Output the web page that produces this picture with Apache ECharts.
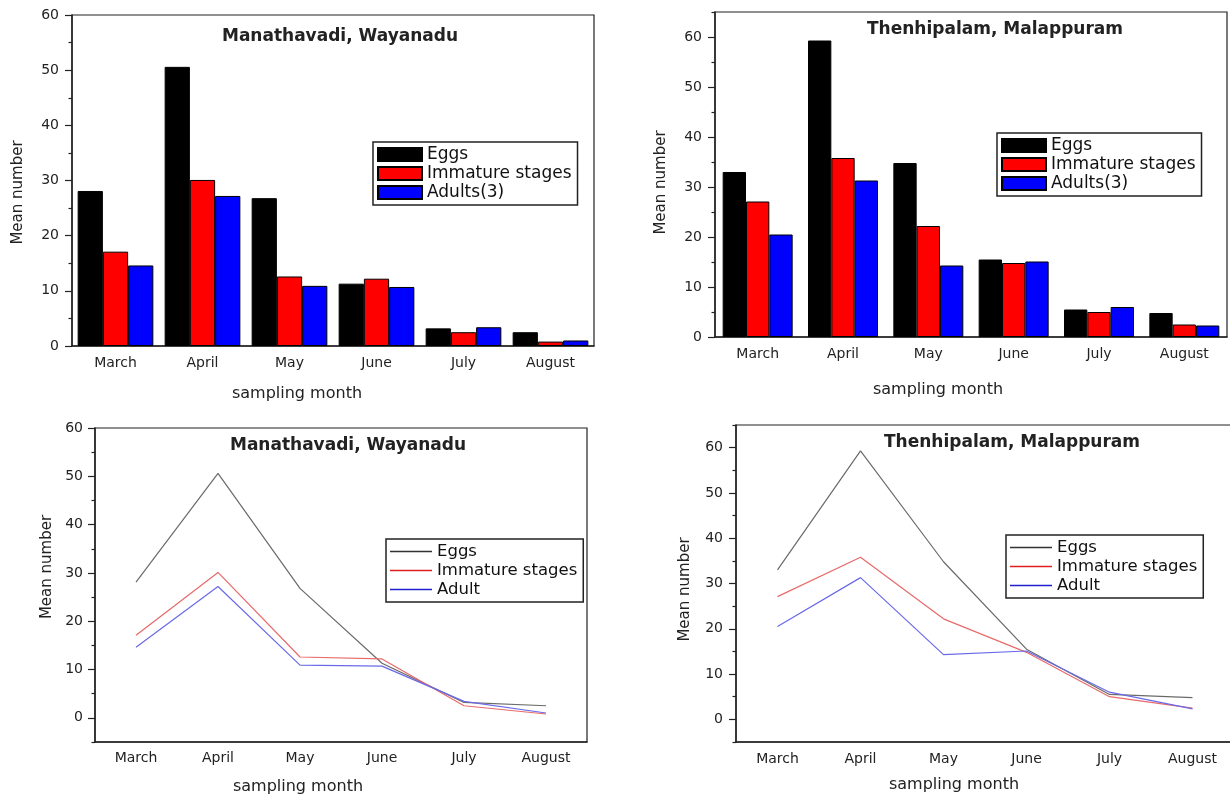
<!DOCTYPE html>
<html>
<head>
<meta charset="utf-8">
<title>Mean number by sampling month</title>
<script src="https://cdn.jsdelivr.net/npm/echarts@6/dist/echarts.min.js"></script>
<style>
  html, body { margin: 0; padding: 0; background: #fff; }
  .panel { position: absolute; overflow: hidden; }
</style>
</head>
<body>
<div id="p1" class="panel" style="left:0;top:0;width:615px;height:412px"></div>
<div id="p2" class="panel" style="left:615px;top:0;width:615px;height:412px"></div>
<div id="p3" class="panel" style="left:0;top:400px;width:615px;height:399px"></div>
<div id="p4" class="panel" style="left:615px;top:400px;width:615px;height:399px"></div>

<script>
const months = ['March', 'April', 'May', 'June', 'July', 'August']

// Manathavadi, Wayanadu
const wayEggs = [28.1, 50.6, 26.8, 11.3, 3.2, 2.5]
const wayImmature = [17.1, 30.1, 12.6, 12.2, 2.5, 0.8]
const wayAdults = [14.6, 27.2, 10.9, 10.7, 3.4, 1.0]

// Thenhipalam, Malappuram
const malEggs = [33.0, 59.3, 34.8, 15.5, 5.5, 4.8]
const malImmature = [27.1, 35.8, 22.2, 14.8, 5.0, 2.5]
const malAdults = [20.5, 31.3, 14.3, 15.1, 6.0, 2.3]

// tick labels
const yTicks = [0, 10, 20, 30, 40, 50, 60]
const yMinorBar = [5, 15, 25, 35, 45, 55, 65]
const yMinorLine = [-5, 5, 15, 25, 35, 45, 55, 65]

const barNames = ['Eggs', 'Immature stages', 'Adults(3)']
const lineNames = ['Eggs', 'Immature stages', 'Adult']

const font = 'DejaVu Sans'
const ink = '#222'
const tickStyle = { color: ink, width: 1.2 }

function buildOption (p) {
  const isBar = p.type === 'bar'
  const colors = isBar ? ['#000000', '#ff0000', '#0000ff'] : ['#6a6a6a', '#e86a6a', '#6a6ae8']
  const legendColors = isBar ? colors : ['#333333', '#e02020', '#2020d0']
  const series = p.data.map((values, i) => {
    if (isBar) {
      return {
        type: 'bar',
        name: p.names[i],
        data: values,
        barGap: '0%',
        barCategoryGap: p.barGap,
        itemStyle: { color: colors[i], borderColor: '#000', borderWidth: 1 }
      }
    }
    return {
      type: 'line',
      name: p.names[i],
      data: values,
      symbol: 'none',
      lineStyle: { width: 1.2, color: colors[i] },
      itemStyle: { color: colors[i] }
    }
  })
  return {
    animation: false,
    title: {
      text: p.title,
      left: p.titlePos[0],
      top: p.titlePos[1],
      textAlign: 'center',
      padding: 0,
      textStyle: { fontFamily: font, fontSize: 17, fontWeight: 'bold', color: ink }
    },
    legend: {
      orient: 'vertical',
      left: p.legendPos[0],
      top: p.legendPos[1],
      data: p.names.map((name, i) => isBar
        ? { name }
        : { name, itemStyle: { color: legendColors[i], borderWidth: 0 } }),
      icon: 'rect',
      itemWidth: isBar ? 44 : 42,
      itemHeight: isBar ? 13 : 1.5,
      itemGap: 2,
      padding: [4, 6, 4, 4],
      borderColor: ink,
      borderWidth: 1.5,
      borderRadius: 0,
      textStyle: { fontFamily: font, fontSize: p.legendFont, color: '#111', lineHeight: 16 }
    },
    grid: {
      left: p.grid[0],
      top: p.grid[1],
      width: p.grid[2],
      height: p.grid[3],
      outerBoundsMode: 'none',
      show: true,
      borderColor: ink,
      borderWidth: 1.2
    },
    xAxis: [
      {
        type: 'category',
        data: months,
        name: 'sampling month',
        nameLocation: 'middle',
        nameGap: p.xName[0],
        nameTextStyle: { fontFamily: font, fontSize: 16, color: ink, padding: [0, p.xName[1], 0, 0] },
        axisLine: { show: true, onZero: false, lineStyle: { color: ink, width: 1.5 } },
        axisTick: { alignWithLabel: true, length: 6, lineStyle: tickStyle },
        axisLabel: { margin: p.xMargin, fontFamily: font, fontSize: 14, color: ink }
      },
      {
        type: 'category',
        data: months,
        position: 'bottom',
        axisLine: { show: false, onZero: false },
        axisTick: { length: 3, lineStyle: tickStyle },
        axisLabel: { show: false }
      }
    ],
    yAxis: [
      {
        type: 'value',
        position: 'left',
        min: p.yRange[0],
        max: p.yRange[1],
        name: 'Mean number',
        nameLocation: 'middle',
        nameGap: p.yName[0],
        nameTextStyle: { fontFamily: font, fontSize: 15, color: ink, padding: p.yName[1] },
        splitLine: { show: false },
        axisLine: { show: true, lineStyle: { color: ink, width: 1.5 } },
        axisTick: { show: false },
        axisLabel: { customValues: yTicks, margin: p.yMargin, fontFamily: font, fontSize: 14, color: ink }
      },
      {
        // major ticks
        type: 'value',
        position: 'left',
        min: p.yRange[0],
        max: p.yRange[1],
        splitLine: { show: false },
        axisLine: { show: false },
        axisTick: { show: true, length: 7, lineStyle: tickStyle, customValues: yTicks },
        axisLabel: { show: false }
      },
      {
        // minor ticks
        type: 'value',
        position: 'left',
        min: p.yRange[0],
        max: p.yRange[1],
        splitLine: { show: false },
        axisLine: { show: false },
        axisTick: { show: true, length: 3.5, lineStyle: tickStyle, customValues: p.minor },
        axisLabel: { show: false }
      }
    ],
    series
  }
}

const panels = [
  {
    id: 'p1', type: 'bar', title: 'Manathavadi, Wayanadu', names: barNames,
    data: [wayEggs, wayImmature, wayAdults], barGap: '13%',
    titlePos: [340, 28], legendPos: [373, 142], legendFont: 17,
    grid: [72, 15, 522, 331], yRange: [0, 60], minor: yMinorBar,
    xName: [40, 72], yName: [46, [0, 24, 0, 0]], xMargin: 10, yMargin: 13
  },
  {
    id: 'p2', type: 'bar', title: 'Thenhipalam, Malappuram', names: barNames,
    data: [malEggs, malImmature, malAdults], barGap: '18%',
    titlePos: [380, 21], legendPos: [382, 133], legendFont: 17,
    grid: [100, 12, 512, 325], yRange: [0, 65], minor: yMinorBar,
    xName: [45, 66], yName: [46, [0, 16, 0, 0]], xMargin: 10, yMargin: 13
  },
  {
    id: 'p3', type: 'line', title: 'Manathavadi, Wayanadu', names: lineNames,
    data: [wayEggs, wayImmature, wayAdults],
    titlePos: [348, 37], legendPos: [386, 139], legendFont: 16.5,
    grid: [95, 28, 492, 314], yRange: [-5, 60], minor: yMinorLine,
    xName: [37, 86], yName: [39, [0, 0, 0, 36]], xMargin: 9, yMargin: 12
  },
  {
    id: 'p4', type: 'line', title: 'Thenhipalam, Malappuram', names: lineNames,
    data: [malEggs, malImmature, malAdults],
    titlePos: [397, 34], legendPos: [391, 135], legendFont: 16.5,
    grid: [121, 25, 498, 317], yRange: [-5, 65], minor: yMinorLine,
    xName: [35, 62], yName: [43, [0, 12, 0, 0]], xMargin: 10, yMargin: 13
  }
]

panels.forEach(p => {
  const chart = echarts.init(document.getElementById(p.id), null, { renderer: 'canvas' })
  chart.setOption(buildOption(p))
})
</script>
</body>
</html>
